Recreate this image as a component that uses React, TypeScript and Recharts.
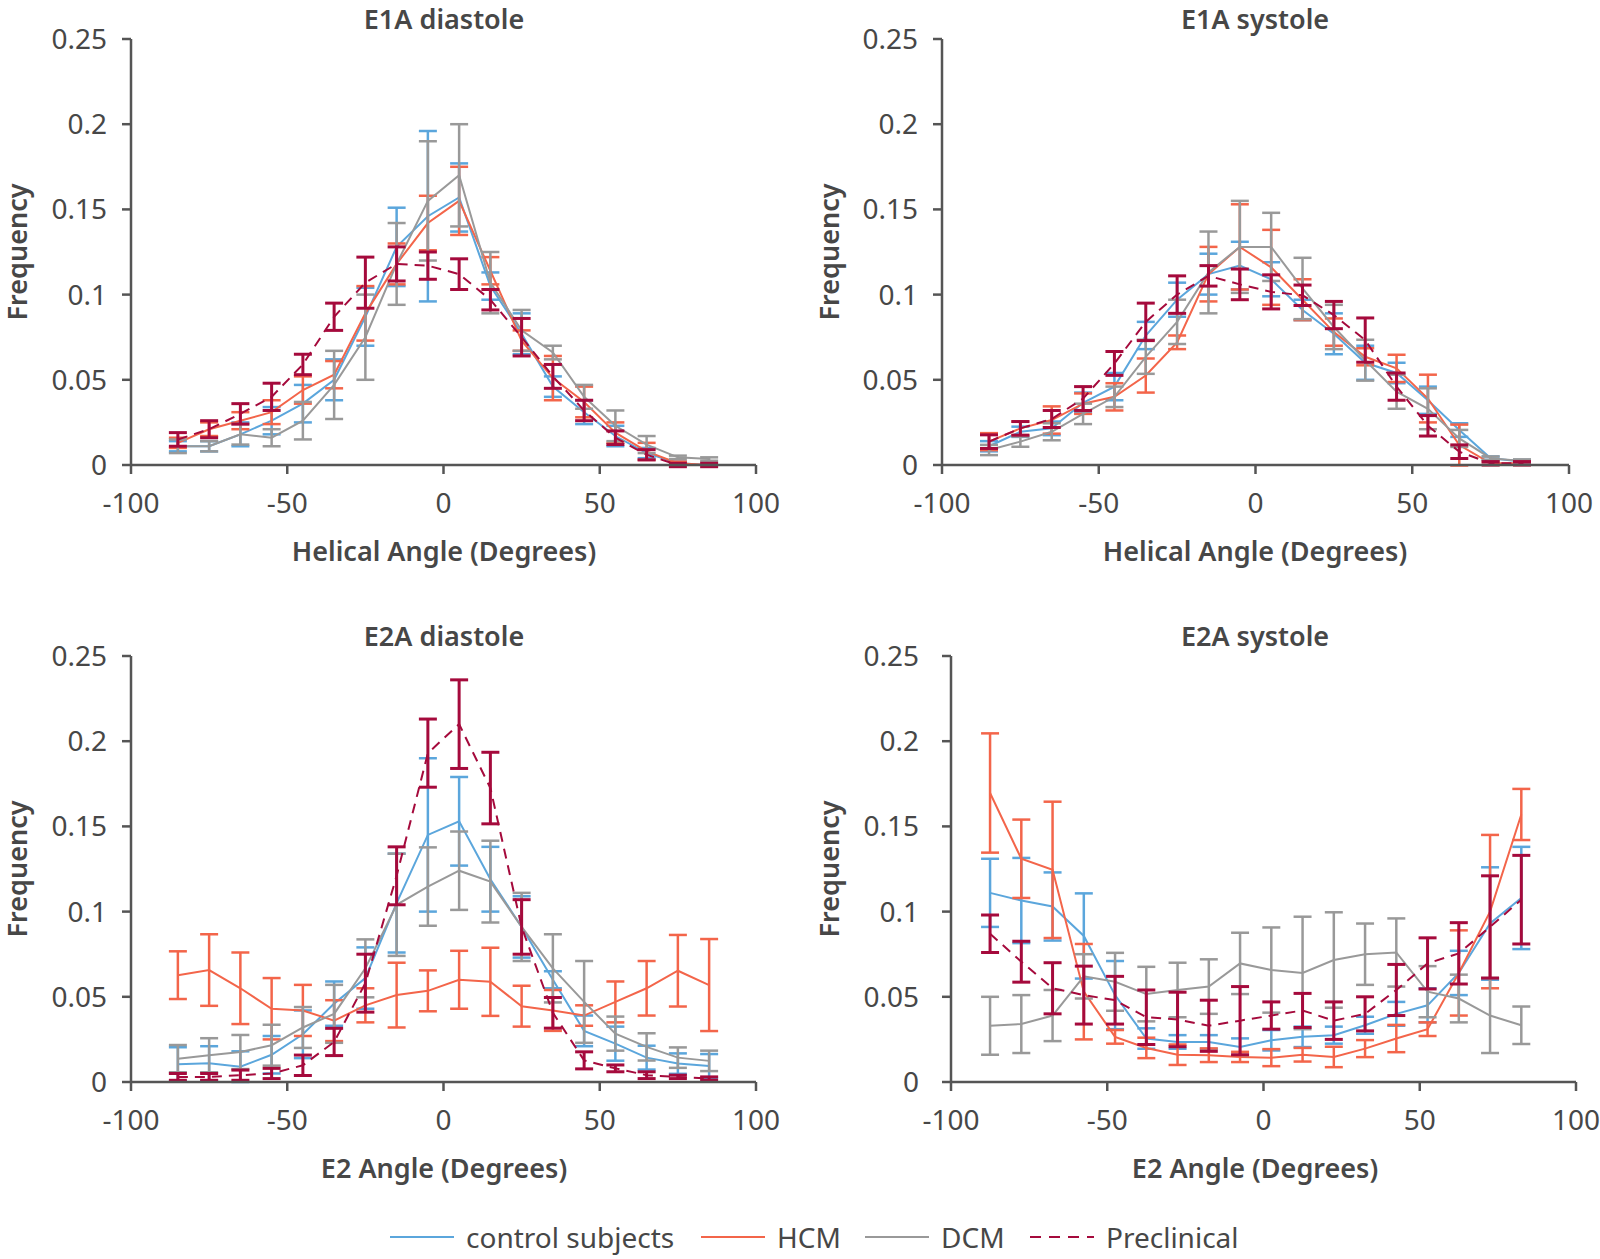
import React from "react";
import { LineChart, Line, XAxis, YAxis, ErrorBar } from "recharts";

// bin centres (degrees)
const ANGLES = [-85, -75, -65, -55, -45, -35, -25, -15, -5, 5, 15, 25, 35, 45, 55, 65, 75, 85];
const ANGLES_E2_SYS = [-87.5, -77.5, -67.5, -57.5, -47.5, -37.5, -27.5, -17.5, -7.5, 2.5, 12.5, 22.5, 32.5, 42.5, 52.5, 62.5, 72.5, 82.5];

const X_TICKS = [-100, -50, 0, 50, 100];
const Y_TICKS = [0, 0.05, 0.1, 0.15, 0.2, 0.25];

// E1A diastole
const E1A_DIA_CTRL = [0.011, 0.011, 0.018, 0.026, 0.036, 0.05, 0.087, 0.128, 0.146, 0.157, 0.105, 0.077, 0.046, 0.031, 0.017, 0.007, 0.001, 0];
const E1A_DIA_CTRL_ERR = [0.003, 0.003, 0.007, 0.008, 0.011, 0.012, 0.017, 0.023, 0.05, 0.02, 0.008, 0.012, 0.006, 0.007, 0.006, 0.003, 0.001, 0];
const E1A_DIA_HCM = [0.013, 0.021, 0.026, 0.031, 0.044, 0.053, 0.089, 0.118, 0.142, 0.155, 0.114, 0.073, 0.051, 0.037, 0.019, 0.008, 0.001, 0];
const E1A_DIA_HCM_ERR = [0.003, 0.004, 0.005, 0.007, 0.008, 0.008, 0.016, 0.012, 0.016, 0.02, 0.008, 0.006, 0.013, 0.009, 0.006, 0.005, 0.001, 0];
const E1A_DIA_DCM = [0.011, 0.011, 0.018, 0.016, 0.026, 0.047, 0.075, 0.118, 0.155, 0.17, 0.107, 0.079, 0.066, 0.04, 0.023, 0.012, 0.0045, 0.0035];
const E1A_DIA_DCM_ERR = [0.004, 0.003, 0.006, 0.005, 0.011, 0.02, 0.025, 0.024, 0.035, 0.03, 0.018, 0.012, 0.004, 0.007, 0.009, 0.005, 0.001, 0.001];
const E1A_DIA_PRE = [0.015, 0.021, 0.03, 0.04, 0.059, 0.087, 0.107, 0.118, 0.117, 0.112, 0.097, 0.075, 0.052, 0.032, 0.016, 0.006, 0, 0];
const E1A_DIA_PRE_ERR = [0.004, 0.005, 0.006, 0.008, 0.006, 0.008, 0.015, 0.01, 0.008, 0.009, 0.006, 0.011, 0.007, 0.006, 0.004, 0.003, 0.001, 0.001];

// E1A systole
const E1A_SYS_CTRL = [0.011, 0.0195, 0.0215, 0.0365, 0.046, 0.076, 0.097, 0.112, 0.117, 0.109, 0.091, 0.077, 0.06, 0.054, 0.038, 0.0205, 0.004, 0.002];
const E1A_SYS_CTRL_ERR = [0.003, 0.003, 0.004, 0.006, 0.008, 0.008, 0.01, 0.012, 0.014, 0.01, 0.006, 0.012, 0.01, 0.006, 0.008, 0.004, 0.001, 0.001];
const E1A_SYS_HCM = [0.0137, 0.0215, 0.0264, 0.036, 0.04, 0.0525, 0.072, 0.112, 0.128, 0.116, 0.097, 0.078, 0.0635, 0.0567, 0.039, 0.0117, 0.001, 0.001];
const E1A_SYS_HCM_ERR = [0.005, 0.004, 0.008, 0.006, 0.008, 0.01, 0.004, 0.016, 0.025, 0.022, 0.012, 0.008, 0.005, 0.008, 0.014, 0.012, 0.001, 0.001];
const E1A_SYS_DCM = [0.0088, 0.0137, 0.0195, 0.03, 0.04, 0.0635, 0.084, 0.113, 0.128, 0.128, 0.1036, 0.081, 0.0615, 0.043, 0.033, 0.0156, 0.004, 0.0023];
const E1A_SYS_DCM_ERR = [0.003, 0.003, 0.005, 0.006, 0.006, 0.01, 0.013, 0.024, 0.027, 0.02, 0.018, 0.013, 0.012, 0.01, 0.012, 0.005, 0.001, 0.001];
const E1A_SYS_PRE = [0.0137, 0.0215, 0.027, 0.039, 0.0596, 0.084, 0.1, 0.111, 0.106, 0.1016, 0.0996, 0.088, 0.0733, 0.046, 0.023, 0.0078, 0.001, 0.001];
const E1A_SYS_PRE_ERR = [0.004, 0.004, 0.005, 0.007, 0.007, 0.011, 0.011, 0.006, 0.009, 0.01, 0.006, 0.008, 0.013, 0.008, 0.006, 0.004, 0.001, 0.001];

// E2A diastole
const E2A_DIA_CTRL = [0.0104, 0.011, 0.009, 0.016, 0.028, 0.046, 0.061, 0.105, 0.145, 0.153, 0.119, 0.091, 0.06, 0.03, 0.0225, 0.0143, 0.0108, 0.0094];
const E2A_DIA_CTRL_ERR = [0.01, 0.01, 0.009, 0.011, 0.014, 0.013, 0.018, 0.029, 0.045, 0.026, 0.019, 0.018, 0.005, 0.009, 0.01, 0.007, 0.006, 0.007];
const E2A_DIA_HCM = [0.0627, 0.0657, 0.055, 0.043, 0.042, 0.036, 0.045, 0.051, 0.0535, 0.06, 0.0588, 0.0445, 0.042, 0.039, 0.047, 0.055, 0.0653, 0.0569];
const E2A_DIA_HCM_ERR = [0.014, 0.021, 0.021, 0.018, 0.015, 0.012, 0.01, 0.019, 0.012, 0.017, 0.02, 0.012, 0.012, 0.006, 0.012, 0.016, 0.021, 0.027];
const E2A_DIA_DCM = [0.0137, 0.0157, 0.0176, 0.0216, 0.032, 0.04, 0.0667, 0.104, 0.1147, 0.124, 0.1176, 0.091, 0.0667, 0.047, 0.0284, 0.0206, 0.0143, 0.0124];
const E2A_DIA_DCM_ERR = [0.008, 0.01, 0.01, 0.012, 0.012, 0.017, 0.017, 0.03, 0.023, 0.023, 0.024, 0.02, 0.02, 0.024, 0.01, 0.008, 0.006, 0.006];
const E2A_DIA_PRE = [0.003, 0.003, 0.004, 0.005, 0.0098, 0.0235, 0.058, 0.121, 0.193, 0.21, 0.1725, 0.091, 0.0406, 0.0127, 0.008, 0.004, 0.003, 0.002];
const E2A_DIA_PRE_ERR = [0.002, 0.002, 0.003, 0.003, 0.006, 0.008, 0.017, 0.017, 0.02, 0.026, 0.021, 0.016, 0.009, 0.005, 0.002, 0.002, 0.001, 0.001];

// E2A systole
const E2A_SYS_CTRL = [0.111, 0.1065, 0.103, 0.0857, 0.051, 0.0255, 0.0235, 0.0235, 0.0206, 0.0245, 0.0265, 0.0275, 0.0333, 0.04, 0.045, 0.064, 0.093, 0.108];
const E2A_SYS_CTRL_ERR = [0.02, 0.025, 0.02, 0.025, 0.02, 0.006, 0.004, 0.004, 0.005, 0.006, 0.006, 0.005, 0.005, 0.007, 0.01, 0.013, 0.033, 0.03];
const E2A_SYS_HCM = [0.1696, 0.131, 0.1245, 0.053, 0.0265, 0.02, 0.016, 0.0157, 0.0147, 0.0143, 0.016, 0.0147, 0.0196, 0.0255, 0.031, 0.064, 0.1, 0.157];
const E2A_SYS_HCM_ERR = [0.035, 0.023, 0.04, 0.028, 0.004, 0.006, 0.006, 0.004, 0.003, 0.005, 0.004, 0.006, 0.005, 0.008, 0.004, 0.025, 0.045, 0.015];
const E2A_SYS_DCM = [0.033, 0.034, 0.039, 0.062, 0.0588, 0.0516, 0.054, 0.056, 0.0696, 0.0657, 0.064, 0.0716, 0.075, 0.076, 0.053, 0.049, 0.039, 0.0333];
const E2A_SYS_DCM_ERR = [0.017, 0.017, 0.015, 0.013, 0.017, 0.016, 0.016, 0.016, 0.018, 0.025, 0.033, 0.028, 0.018, 0.02, 0.015, 0.014, 0.022, 0.011];
const E2A_SYS_PRE = [0.087, 0.0706, 0.055, 0.051, 0.048, 0.038, 0.0367, 0.033, 0.036, 0.039, 0.042, 0.036, 0.04, 0.054, 0.0696, 0.0755, 0.091, 0.107];
const E2A_SYS_PRE_ERR = [0.011, 0.012, 0.015, 0.017, 0.014, 0.016, 0.016, 0.015, 0.02, 0.008, 0.01, 0.011, 0.01, 0.015, 0.015, 0.018, 0.03, 0.026];

const BLUE = "#5ba6dc";
const ORANGE = "#f3654a";
const GRAY = "#999999";
const DARK_RED = "#a50a3c";
const TEXT = "#474747";
const AXIS = "#555555";
const FONT = "'Noto Sans', sans-serif";

function buildRows(x: number[], ctrl: number[], ctrlErr: number[], hcm: number[], hcmErr: number[], dcm: number[], dcmErr: number[], pre: number[], preErr: number[]) {
  return x.map((v, i) => ({
    x: v,
    ctrl: ctrl[i],
    ctrlErr: ctrlErr[i],
    hcm: hcm[i],
    hcmErr: hcmErr[i],
    dcm: dcm[i],
    dcmErr: dcmErr[i],
    pre: pre[i],
    preErr: preErr[i],
  }));
}

// layout: plot box position, label centre, y tick spacing
const panels = [
  {
    title: "E1A diastole",
    xLabel: "Helical Angle (Degrees)",
    left: 131, top: 39, w: 625, labelX: 444, yLabelX: 16, tickGap: 15,
    data: buildRows(ANGLES, E1A_DIA_CTRL, E1A_DIA_CTRL_ERR, E1A_DIA_HCM, E1A_DIA_HCM_ERR, E1A_DIA_DCM, E1A_DIA_DCM_ERR, E1A_DIA_PRE, E1A_DIA_PRE_ERR),
  },
  {
    title: "E1A systole",
    xLabel: "Helical Angle (Degrees)",
    left: 942, top: 39, w: 627, labelX: 1255, yLabelX: 828, tickGap: 15,
    data: buildRows(ANGLES, E1A_SYS_CTRL, E1A_SYS_CTRL_ERR, E1A_SYS_HCM, E1A_SYS_HCM_ERR, E1A_SYS_DCM, E1A_SYS_DCM_ERR, E1A_SYS_PRE, E1A_SYS_PRE_ERR),
  },
  {
    title: "E2A diastole",
    xLabel: "E2 Angle (Degrees)",
    left: 131, top: 656, w: 625, labelX: 444, yLabelX: 16, tickGap: 15,
    data: buildRows(ANGLES, E2A_DIA_CTRL, E2A_DIA_CTRL_ERR, E2A_DIA_HCM, E2A_DIA_HCM_ERR, E2A_DIA_DCM, E2A_DIA_DCM_ERR, E2A_DIA_PRE, E2A_DIA_PRE_ERR),
  },
  {
    title: "E2A systole",
    xLabel: "E2 Angle (Degrees)",
    left: 951, top: 656, w: 625, labelX: 1255, yLabelX: 828, tickGap: 23,
    data: buildRows(ANGLES_E2_SYS, E2A_SYS_CTRL, E2A_SYS_CTRL_ERR, E2A_SYS_HCM, E2A_SYS_HCM_ERR, E2A_SYS_DCM, E2A_SYS_DCM_ERR, E2A_SYS_PRE, E2A_SYS_PRE_ERR),
  },
];

const PLOT_H = 426;

const series = [
  { key: "ctrl", err: "ctrlErr", color: BLUE },
  { key: "hcm", err: "hcmErr", color: ORANGE },
  { key: "dcm", err: "dcmErr", color: GRAY },
  { key: "pre", err: "preErr", color: DARK_RED, dashed: true },
];

const fmtY = (v: number) => (v === 0 ? "0" : String(v));

const label: React.CSSProperties = {
  position: "absolute",
  transform: "translate(-50%, -50%)",
  whiteSpace: "nowrap",
  lineHeight: 1,
  fontSize: 27,
  color: TEXT,
  fontFamily: FONT,
  fontWeight: 600,
};

function Panel({ p }: { p: (typeof panels)[number] }) {
  const chartW = p.w + 160;
  const chartH = PLOT_H + 100;
  return (
    <>
      <div style={{ position: "absolute", left: p.left - 120, top: p.top - 40 }}>
        <LineChart width={chartW} height={chartH} data={p.data} margin={{ top: 40, right: 40, left: 20, bottom: 10 }}>
          <XAxis
            type="number"
            dataKey="x"
            domain={[-100, 100]}
            ticks={X_TICKS}
            allowDataOverflow
            height={50}
            tickSize={9}
            tickMargin={19}
            axisLine={{ stroke: AXIS, strokeWidth: 2.5 }}
            tickLine={{ stroke: AXIS, strokeWidth: 2.5 }}
            tick={{ fontSize: 28, fill: TEXT, fontFamily: FONT }}
            interval={0}
          />
          <YAxis
            type="number"
            domain={[0, 0.25]}
            ticks={Y_TICKS}
            allowDataOverflow
            width={100}
            tickSize={9}
            tickMargin={p.tickGap}
            tickFormatter={fmtY}
            axisLine={{ stroke: AXIS, strokeWidth: 2.5 }}
            tickLine={{ stroke: AXIS, strokeWidth: 2.5 }}
            tick={{ fontSize: 28, fill: TEXT, fontFamily: FONT }}
            interval={0}
          />
          {series.map((s) => (
            <Line
              key={s.key}
              dataKey={s.key}
              stroke={s.color}
              strokeWidth={2}
              strokeDasharray={s.dashed ? "10 7" : undefined}
              dot={false}
              activeDot={false}
              isAnimationActive={false}
            >
              <ErrorBar dataKey={s.err} width={9} stroke={s.color} strokeWidth={s.dashed ? 3 : 2.5} direction="y" />
            </Line>
          ))}
        </LineChart>
      </div>
      <div style={{ ...label, left: p.labelX, top: p.top - 21 }}>{p.title}</div>
      <div style={{ ...label, left: p.labelX, top: p.top + PLOT_H + 85 }}>{p.xLabel}</div>
      <div style={{ ...label, left: p.yLabelX, top: p.top + PLOT_H / 2, transform: "translate(-50%, -50%) rotate(-90deg)" }}>
        Frequency
      </div>
    </>
  );
}

const LEGEND_NAMES = ["control subjects", "HCM", "DCM", "Preclinical"];

function Legend() {
  const starts = [390, 701, 865, 1030];
  const colors = [BLUE, ORANGE, GRAY, DARK_RED];
  return (
    <>
      {LEGEND_NAMES.map((name, i) => (
        <div key={name} style={{ position: "absolute", left: starts[i], top: 1237, transform: "translateY(-50%)", display: "flex", alignItems: "center", whiteSpace: "nowrap" }}>
          <svg width={64} height={6} style={{ display: "block" }}>
            <line x1={0} y1={3} x2={64} y2={3} stroke={colors[i]} strokeWidth={2} strokeDasharray={i === 3 ? "11 8" : undefined} />
          </svg>
          <span style={{ marginLeft: 12, fontSize: 28, color: TEXT, fontFamily: FONT, lineHeight: 1 }}>{name}</span>
        </div>
      ))}
    </>
  );
}

export default function App() {
  return (
    <div style={{ position: "absolute", left: 0, top: 0, width: 1600, height: 1259, background: "#fff", fontFamily: FONT }}>
      {panels.map((p) => (
        <Panel key={p.title} p={p} />
      ))}
      <Legend />
    </div>
  );
}
